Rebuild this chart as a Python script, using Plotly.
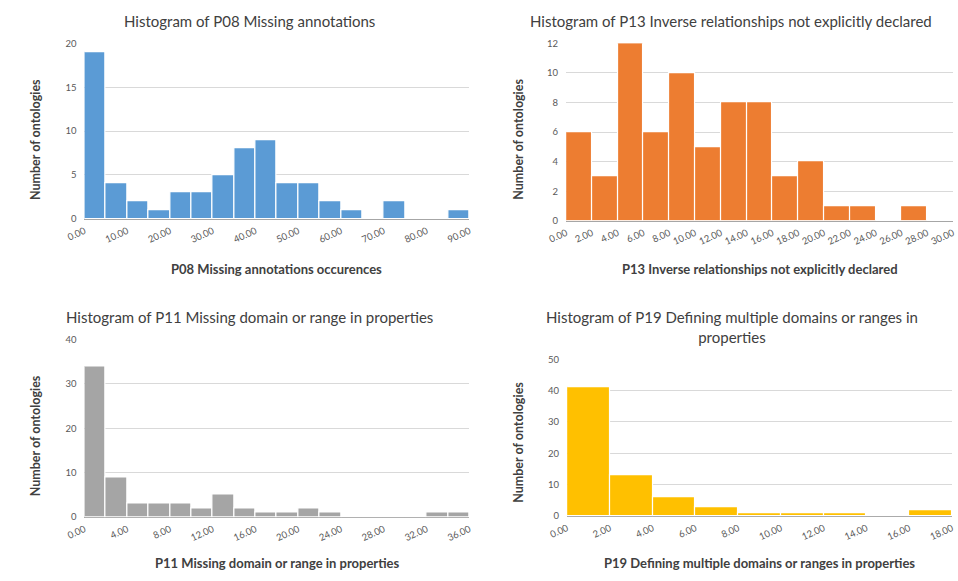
import plotly.graph_objects as go

W, H = 958, 581

# Histogram counts per bin for each pitfall
p08_edges = [0, 5, 10, 15, 20, 25, 30, 35, 40, 45, 50, 55, 60, 65, 70, 75, 80, 85, 90]
p08_counts = [19, 4, 2, 1, 3, 3, 5, 8, 9, 4, 4, 2, 1, 0, 2, 0, 0, 1]
p08_ticks = [0, 10, 20, 30, 40, 50, 60, 70, 80, 90]

p13_edges = [0, 2, 4, 6, 8, 10, 12, 14, 16, 18, 20, 22, 24, 26, 28, 30]
p13_counts = [6, 3, 12, 6, 10, 5, 8, 8, 3, 4, 1, 1, 0, 1, 0]
p13_ticks = [0, 2, 4, 6, 8, 10, 12, 14, 16, 18, 20, 22, 24, 26, 28, 30]

p11_edges = [0, 2, 4, 6, 8, 10, 12, 14, 16, 18, 20, 22, 24, 26, 28, 30, 32, 34, 36]
p11_counts = [34, 9, 3, 3, 3, 2, 5, 2, 1, 1, 2, 1, 0, 0, 0, 0, 1, 1]
p11_ticks = [0, 4, 8, 12, 16, 20, 24, 28, 32, 36]

p19_edges = [0, 2, 4, 6, 8, 10, 12, 14, 16, 18]
p19_counts = [41, 13, 6, 3, 1, 1, 1, 0, 2]
p19_ticks = [0, 2, 4, 6, 8, 10, 12, 14, 16, 18]

titles = [
    "Histogram of P08 Missing annotations",
    "Histogram of P13 Inverse relationships not explicitly declared",
    "Histogram of P11 Missing domain or range in properties",
    "Histogram of P19 Defining multiple domains or ranges in<br>properties",
]
x_titles = [
    "P08 Missing annotations occurences",
    "P13 Inverse relationships not explicitly declared",
    "P11 Missing domain or range in properties",
    "P19 Defining multiple domains or ranges in properties",
]
y_title = "Number of ontologies"

FONT = "Lato"
TXT = "#404040"
TICK = "#595959"

panels = [
    dict(edges=p08_edges, counts=p08_counts, ticks=p08_ticks, ymax=20, dy=5,
         color="#5B9BD5", box=(67, 461, 38, 217), tx=236, ty=15, xtx=264, xty=268, ytx=17, yty=136),
    dict(edges=p13_edges, counts=p13_counts, ticks=p13_ticks, ymax=12, dy=2,
         color="#ED7D31", box=(560, 956, 38, 219), tx=729, ty=15, xtx=758, xty=268, ytx=511, yty=136),
    dict(edges=p11_edges, counts=p11_counts, ticks=p11_ticks, ymax=40, dy=10,
         color="#A5A5A5", box=(67, 461, 340, 521), tx=236, ty=317, xtx=265, xty=568, ytx=17, yty=438),
    dict(edges=p19_edges, counts=p19_counts, ticks=p19_ticks, ymax=50, dy=10,
         color="#FFC000", box=(561, 955, 360, 520), tx=730, ty=327, xtx=758, xty=568, ytx=511, yty=445),
]

fig = go.Figure()
annotations = []

for i, p in enumerate(panels, start=1):
    e = p["edges"]
    centers = [(a + b) / 2 for a, b in zip(e[:-1], e[1:])]
    widths = [b - a for a, b in zip(e[:-1], e[1:])]
    xa = "x" if i == 1 else f"x{i}"
    ya = "y" if i == 1 else f"y{i}"
    fig.add_trace(go.Bar(
        x=centers, y=p["counts"], width=widths,
        marker=dict(color=p["color"], line=dict(color="white", width=1.2)),
        xaxis=xa, yaxis=ya, showlegend=False, hoverinfo="x+y",
    ))
    x0, x1, y0, y1 = p["box"]
    xkey = "xaxis" if i == 1 else f"xaxis{i}"
    ykey = "yaxis" if i == 1 else f"yaxis{i}"
    fig.update_layout(**{
        xkey: dict(
            domain=[x0 / W, x1 / W], anchor=ya, range=[e[0], e[-1]],
            tickmode="array", tickvals=p["ticks"],
            ticktext=[f"{t:.2f}" for t in p["ticks"]],
            tickangle=-25, tickfont=dict(family=FONT, size=9.5, color=TICK),
            ticklabelstandoff=2,
            showgrid=False, zeroline=False, showline=True, linecolor="#A6A6A6",
            linewidth=1, layer="below traces", ticks="", fixedrange=True,
        ),
        ykey: dict(
            domain=[1 - y1 / H, 1 - y0 / H], anchor=xa, range=[0, p["ymax"]],
            dtick=p["dy"], tickfont=dict(family=FONT, size=9.5, color=TICK),
            ticklabelstandoff=7,
            showgrid=True, gridcolor="#D9D9D9", gridwidth=1, zeroline=False,
            showline=False, ticks="", fixedrange=True,
        ),
    })
    annotations.append(dict(
        text=titles[i - 1], x=p["tx"] / W, y=1 - p["ty"] / H, xref="paper", yref="paper",
        showarrow=False, xanchor="center", yanchor="middle",
        font=dict(family=FONT, size=15, color=TXT),
    ))
    annotations.append(dict(
        text=f"<b>{x_titles[i - 1]}</b>", x=p["xtx"] / W, y=1 - p["xty"] / H,
        xref="paper", yref="paper", showarrow=False, xanchor="center", yanchor="middle",
        font=dict(family=FONT, size=13, color=TXT),
    ))
    annotations.append(dict(
        text=f"<b>{y_title}</b>", x=p["ytx"] / W, y=1 - p["yty"] / H,
        xref="paper", yref="paper", showarrow=False, xanchor="center", yanchor="middle",
        textangle=-90, font=dict(family=FONT, size=12.5, color=TXT),
    ))

fig.update_layout(
    width=W, height=H, margin=dict(l=0, r=0, t=0, b=0),
    paper_bgcolor="white", plot_bgcolor="white",
    bargap=0, annotations=annotations,
)

fig.write_html("out.html")
